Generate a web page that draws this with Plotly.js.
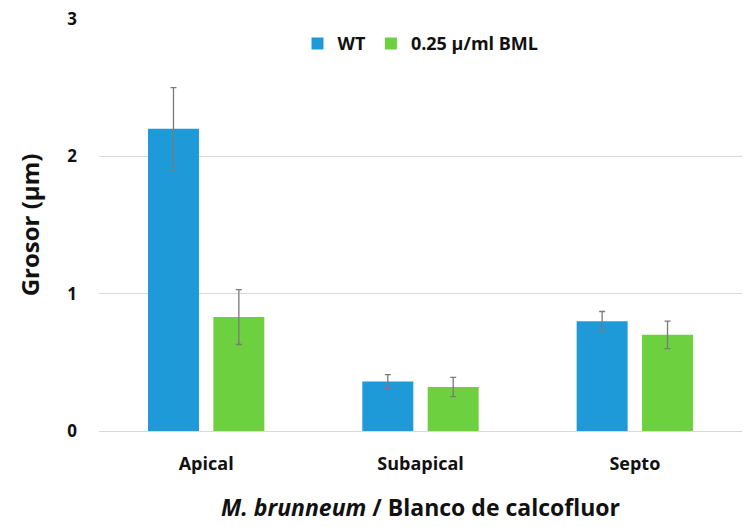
<!DOCTYPE html>
<html>
<head>
<meta charset="utf-8">
<script src="https://cdn.plot.ly/plotly-3.0.1.min.js"></script>
<style>html,body{margin:0;padding:0;background:#fff;}#chart{width:746px;height:527px;}</style>
</head>
<body>
<div id="chart"></div>
<script>
const categories = ["Apical", "Subapical", "Septo"];
const wtValues = [2.2, 0.36, 0.80];
const wtErrors = [0.30, 0.05, 0.07];
const bmlValues = [0.83, 0.32, 0.70];
const bmlErrors = [0.20, 0.07, 0.10];
const seriesNames = ["WT", "0.25 µ/ml BML"];
const yTicks = [0, 1, 2, 3];

const font = "Open Sans, Lato, sans-serif";
const errStyle = {type: "data", visible: true, color: "#7a7a7a", thickness: 1.3, width: 3};

const traces = [
  {type: "bar", name: seriesNames[0], x: categories, y: wtValues,
   marker: {color: "#1f9ad8"},
   error_y: Object.assign({array: wtErrors}, errStyle)},
  {type: "bar", name: seriesNames[1], x: categories, y: bmlValues,
   marker: {color: "#6dd03f"},
   error_y: Object.assign({array: bmlErrors}, errStyle)}
];

const layout = {
  width: 746, height: 527,
  margin: {l: 99, r: 4, t: 19, b: 96},
  paper_bgcolor: "#fff", plot_bgcolor: "#fff",
  font: {family: font, color: "#111"},
  barmode: "group",
  bargap: 0.39,
  bargroupgap: 0.22,
  showlegend: true,
  legend: {orientation: "h", x: 0.5, xanchor: "center", y: 0.94, yanchor: "middle",
           font: {family: font, size: 18, color: "#111", weight: "bold"},
           itemwidth: 30, traceorder: "normal"},
  xaxis: {
    type: "category",
    showgrid: false, showline: false, zeroline: false, ticks: "",
    tickfont: {family: font, size: 18, color: "#111", weight: "bold"},
    ticklabelstandoff: 20,
    title: {text: "<i>M. brunneum</i> / Blanco de calcofluor",
            font: {family: font, size: 23, color: "#111", weight: "bold"}, standoff: 25}
  },
  yaxis: {
    range: [0, 3], tickvals: yTicks, ticktext: yTicks.map(String),
    showgrid: true, gridcolor: "#d9d9d9", gridwidth: 1,
    zeroline: true, zerolinecolor: "#d9d9d9", zerolinewidth: 1,
    showline: false, ticks: "",
    tickfont: {family: font, size: 17, color: "#111", weight: "bold"},
    ticklabelstandoff: 21,
    title: {text: "Grosor (µm)", font: {family: font, size: 24, color: "#111", weight: "bold"}, standoff: 20}
  }
};

Plotly.newPlot("chart", traces, layout, {displayModeBar: false, staticPlot: true});
</script>
</body>
</html>
